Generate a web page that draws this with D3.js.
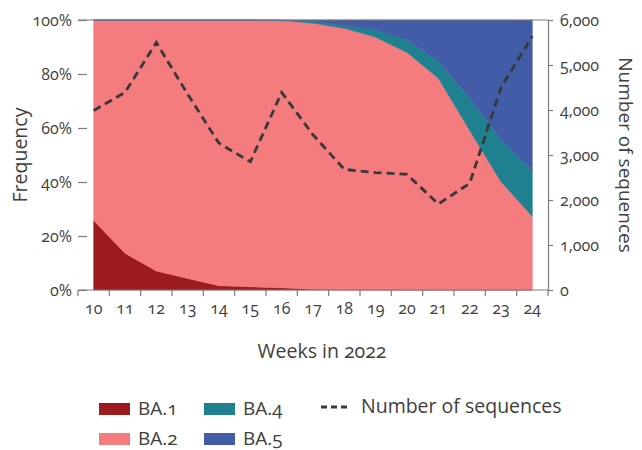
<!DOCTYPE html>
<html>
<head>
<meta charset="utf-8">
<script src="https://cdn.jsdelivr.net/npm/d3@7"></script>
<style>
  html, body { margin: 0; padding: 0; background: #fff; }
  svg { display: block; font-family: "Open Sans", "Noto Sans", sans-serif; font-variant-numeric: oldstyle-nums; }
  text { fill: #404040; }
</style>
</head>
<body>
<svg id="chart" width="642" height="450"></svg>
<script>
// Weekly variant shares (%) and sequence counts, 2022
const weeks = [10, 11, 12, 13, 14, 15, 16, 17, 18, 19, 20, 21, 22, 23, 24];
const ba1 = [25.7, 13.6, 7.0, 4.3, 1.6, 1.2, 0.8, 0.3, 0.1, 0.1, 0, 0, 0, 0, 0];
const ba2 = [74.3, 86.4, 93.0, 95.7, 98.4, 98.8, 99.0, 98.5, 96.8, 93.5, 88.0, 78.4, 59.1, 40.1, 27.2];
const ba4 = [0, 0, 0, 0, 0, 0, 0.1, 0.7, 0.9, 2.7, 4.6, 6.3, 11.9, 15.5, 17.0];
const ba5 = [0, 0, 0, 0, 0, 0, 0.1, 0.5, 2.2, 3.7, 7.4, 15.3, 29.0, 44.4, 55.8];
const sequences = [3990, 4390, 5500, 4350, 3260, 2850, 4390, 3450, 2680, 2610, 2570, 1910, 2370, 4500, 5640];

const variantNames = ["BA.1", "BA.2", "BA.4", "BA.5"];
const variantColors = ["#9b1b20", "#f47c7e", "#1f8090", "#435ca8"];
const freqTicks = [0, 20, 40, 60, 80, 100];
const seqTicks = [0, 1000, 2000, 3000, 4000, 5000, 6000];

const svg = d3.select("#chart");
const x0 = 78, x1 = 548, yTop = 20, yBot = 290;
const axisColor = "#7d7d7d";
const tickFont = 16;
const titleFont = 19.5;

const xBand = d3.scaleBand().domain(weeks).range([x0, x1]);
const xc = w => xBand(w) + xBand.bandwidth() / 2;
const yFreq = d3.scaleLinear().domain([0, 100]).range([yBot, yTop]);
const ySeq = d3.scaleLinear().domain([0, 6000]).range([yBot, yTop]);

// Stacked area layers
const table = weeks.map((w, i) => ({ week: w, "BA.1": ba1[i], "BA.2": ba2[i], "BA.4": ba4[i], "BA.5": ba5[i] }));
const stacked = d3.stack().keys(variantNames)(table);
const area = d3.area()
  .x(d => xc(d.data.week))
  .y0(d => yFreq(d[0]))
  .y1(d => yFreq(d[1]));

svg.append("g").selectAll("path")
  .data(stacked)
  .join("path")
  .attr("d", area)
  .attr("fill", (d, i) => variantColors[i])
  .attr("stroke", (d, i) => variantColors[i])
  .attr("stroke-width", 0.5);

// Top frame line
svg.append("line")
  .attr("x1", x0).attr("x2", x1).attr("y1", yTop).attr("y2", yTop)
  .attr("stroke", axisColor).attr("stroke-width", 1.2);

// Left axis (frequency): ticks only, pointing inward
const leftAxis = svg.append("g")
  .attr("transform", `translate(${x0},0)`)
  .call(d3.axisRight(yFreq).tickValues(freqTicks).tickSize(9).tickFormat(""));
leftAxis.select(".domain").remove();
leftAxis.selectAll("line").attr("stroke", axisColor).attr("stroke-width", 1.2);
svg.append("g").selectAll("text")
  .data(freqTicks)
  .join("text")
  .attr("x", x0 - 6)
  .attr("y", d => yFreq(d))
  .attr("dy", "0.35em")
  .attr("text-anchor", "end")
  .attr("font-size", tickFont)
  .text(d => d + "%");

// Right axis (number of sequences)
const rightAxis = svg.append("g")
  .attr("transform", `translate(${x1},0)`)
  .call(d3.axisRight(ySeq).tickValues(seqTicks).tickSize(5).tickPadding(7).tickFormat(d3.format(",")));
rightAxis.select(".domain").attr("stroke", axisColor).attr("stroke-width", 1.2);
rightAxis.selectAll("line").attr("stroke", axisColor).attr("stroke-width", 1.2);
rightAxis.selectAll("text").attr("font-size", tickFont).attr("fill", "#404040")
  .style("font-family", "'Open Sans', 'Noto Sans', sans-serif");

// Bottom axis with ticks at week boundaries
const bottom = svg.append("g").attr("transform", `translate(0,${yBot})`);
bottom.append("line")
  .attr("x1", x0).attr("x2", x1)
  .attr("stroke", axisColor).attr("stroke-width", 1.2);
const edges = weeks.map(w => xBand(w)).concat([x1]);
bottom.selectAll("line.tick")
  .data(edges)
  .join("line")
  .attr("class", "tick")
  .attr("x1", d => d).attr("x2", d => d)
  .attr("y1", 0).attr("y2", 6)
  .attr("stroke", axisColor).attr("stroke-width", 1.2);
bottom.selectAll("text")
  .data(weeks)
  .join("text")
  .attr("x", d => xc(d))
  .attr("y", 24)
  .attr("text-anchor", "middle")
  .attr("font-size", tickFont)
  .text(d => d);

// Sequence count line
const line = d3.line()
  .x((d, i) => xc(weeks[i]))
  .y(d => ySeq(d));
svg.append("path")
  .datum(sequences)
  .attr("d", line)
  .attr("fill", "none")
  .attr("stroke", "#383838")
  .attr("stroke-width", 2.8)
  .attr("stroke-dasharray", "8,5");

// Axis titles
svg.append("text")
  .attr("transform", `translate(27,${(yTop + yBot) / 2}) rotate(-90)`)
  .attr("text-anchor", "middle")
  .attr("font-size", titleFont)
  .text("Frequency");
svg.append("text")
  .attr("transform", `translate(619,${(yTop + yBot) / 2}) rotate(90)`)
  .attr("text-anchor", "middle")
  .attr("font-size", 19)
  .text("Number of sequences");
svg.append("text")
  .attr("x", 322).attr("y", 358)
  .attr("text-anchor", "middle")
  .attr("font-size", titleFont)
  .text("Weeks in 2022");

// Legend
const legendItems = [
  { name: "BA.1", color: variantColors[0], x: 99, y: 403 },
  { name: "BA.2", color: variantColors[1], x: 99, y: 433 },
  { name: "BA.4", color: variantColors[2], x: 204, y: 403 },
  { name: "BA.5", color: variantColors[3], x: 204, y: 433 }
];
const lg = svg.append("g");
legendItems.forEach(it => {
  lg.append("rect").attr("x", it.x).attr("y", it.y).attr("width", 31).attr("height", 12).attr("fill", it.color);
  lg.append("text").attr("x", it.x + 39).attr("y", it.y + 12).attr("font-size", 19).text(it.name);
});
lg.append("line")
  .attr("x1", 321).attr("x2", 350).attr("y1", 407).attr("y2", 407)
  .attr("stroke", "#383838").attr("stroke-width", 2.8).attr("stroke-dasharray", "6,4");
lg.append("text").attr("x", 361).attr("y", 413).attr("font-size", titleFont).text("Number of sequences");
</script>
</body>
</html>
